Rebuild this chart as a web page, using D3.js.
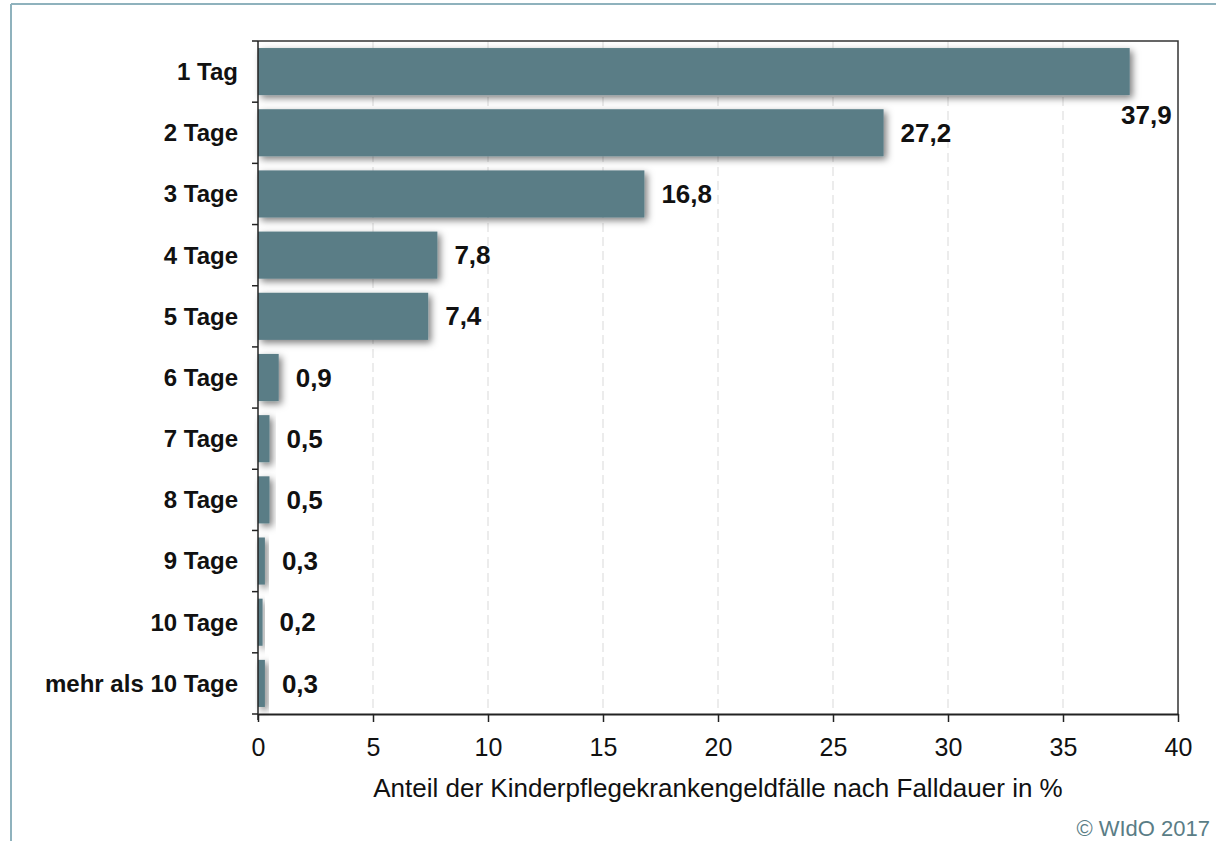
<!DOCTYPE html>
<html>
<head>
<meta charset="utf-8">
<script src="https://cdn.jsdelivr.net/npm/d3@7"></script>
<style>
  body { margin: 0; background: #fff; }
  svg { display: block; font-family: "Liberation Sans", Arial, sans-serif; }
</style>
</head>
<body>
<svg id="chart" width="1216" height="841"></svg>
<script>
// categories and values
const categories = ["1 Tag", "2 Tage", "3 Tage", "4 Tage", "5 Tage", "6 Tage",
  "7 Tage", "8 Tage", "9 Tage", "10 Tage", "mehr als 10 Tage"];
const values = [37.9, 27.2, 16.8, 7.8, 7.4, 0.9, 0.5, 0.5, 0.3, 0.2, 0.3];
const xTicks = [0, 5, 10, 15, 20, 25, 30, 35, 40];
const xTitle = "Anteil der Kinderpflegekrankengeldfälle nach Falldauer in %";
const credit = "© WIdO 2017";

const svg = d3.select("#chart");
const plotLeft = 258, plotRight = 1178, plotTop = 41, plotBottom = 714;
const barColor = "#5a7d86";

const x = d3.scaleLinear().domain([0, 40]).range([plotLeft, plotRight]);
const y = d3.scaleBand().domain(categories).range([plotTop, plotBottom])
  .paddingInner(0.23).paddingOuter(0.115);

// soft drop shadow for the bars
const filter = svg.append("defs").append("filter")
  .attr("id", "shadow")
  .attr("x", "-30%").attr("y", "-30%")
  .attr("width", "180%").attr("height", "180%");
filter.append("feDropShadow")
  .attr("dx", 3).attr("dy", 3)
  .attr("stdDeviation", 3.5)
  .attr("flood-color", "#000")
  .attr("flood-opacity", 0.5);

// outer frame (top + left)
svg.append("line").attr("x1", 11).attr("x2", 1216).attr("y1", 4).attr("y2", 4)
  .attr("stroke", "#8fb2bd").attr("stroke-width", 2);
svg.append("line").attr("x1", 11).attr("x2", 11).attr("y1", 4).attr("y2", 841)
  .attr("stroke", "#8fb2bd").attr("stroke-width", 2);

// dashed gridlines
svg.append("g")
  .selectAll("line")
  .data(xTicks.slice(1, -1))
  .enter()
  .append("line")
  .attr("x1", d => x(d)).attr("x2", d => x(d))
  .attr("y1", plotTop).attr("y2", plotBottom)
  .attr("stroke", "#d9d9d9")
  .attr("stroke-dasharray", "9,5");

// plot frame top + right
svg.append("path")
  .attr("d", `M${plotLeft},${plotTop}H${plotRight}V${plotBottom}`)
  .attr("fill", "none")
  .attr("stroke", "#333")
  .attr("stroke-width", 1.5);

// bars
svg.append("g")
  .selectAll("rect")
  .data(values)
  .enter()
  .append("rect")
  .attr("x", x(0))
  .attr("y", (d, i) => y(categories[i]))
  .attr("width", d => x(d) - x(0))
  .attr("height", y.bandwidth())
  .attr("fill", barColor)
  .attr("filter", "url(#shadow)");

// value labels (the first one sits below the bar end)
svg.append("g")
  .selectAll("text")
  .data(values)
  .enter()
  .append("text")
  .attr("x", (d, i) => i === 0 ? x(d) + 42 : x(d) + 17)
  .attr("y", (d, i) => i === 0
    ? y(categories[i]) + y.bandwidth() + 20
    : y(categories[i]) + y.bandwidth() / 2)
  .attr("text-anchor", (d, i) => i === 0 ? "end" : "start")
  .attr("dy", "0.35em")
  .attr("font-size", 26)
  .attr("font-weight", "bold")
  .attr("fill", "#111")
  .text(d => d.toFixed(1).replace(".", ","));

// y axis: ticks at band boundaries
const yAxis = svg.append("g");
yAxis.append("line")
  .attr("x1", plotLeft).attr("x2", plotLeft).attr("y1", plotTop).attr("y2", plotBottom + 6)
  .attr("stroke", "#222").attr("stroke-width", 1.5);
const bounds = d3.range(categories.length + 1).map(i => plotTop + i * y.step());
yAxis.selectAll("line.tick")
  .data(bounds)
  .enter()
  .append("line")
  .attr("class", "tick")
  .attr("x1", plotLeft - 6).attr("x2", plotLeft)
  .attr("y1", d => d).attr("y2", d => d)
  .attr("stroke", "#222").attr("stroke-width", 1.5);
yAxis.selectAll("text")
  .data(categories)
  .enter()
  .append("text")
  .attr("x", 238)
  .attr("y", d => y(d) + y.bandwidth() / 2)
  .attr("dy", "0.35em")
  .attr("text-anchor", "end")
  .attr("font-size", 24)
  .attr("font-weight", "bold")
  .attr("fill", "#111")
  .text(d => d);

// x axis
const xAxis = svg.append("g")
  .attr("transform", `translate(0,${plotBottom})`)
  .call(d3.axisBottom(x).tickValues(xTicks).tickSize(8).tickSizeOuter(0).tickPadding(16));
xAxis.select(".domain").attr("stroke", "#222").attr("stroke-width", 2);
xAxis.selectAll(".tick line").attr("stroke", "#222").attr("stroke-width", 1.5);
xAxis.selectAll(".tick text")
  .attr("font-size", 25)
  .attr("font-family", "Liberation Sans, Arial, sans-serif")
  .attr("fill", "#111");

svg.append("text")
  .attr("x", (plotLeft + plotRight) / 2)
  .attr("y", 797)
  .attr("text-anchor", "middle")
  .attr("font-size", 26)
  .attr("fill", "#111")
  .text(xTitle);

svg.append("text")
  .attr("x", 1210)
  .attr("y", 836)
  .attr("text-anchor", "end")
  .attr("font-size", 22)
  .attr("fill", barColor)
  .text(credit);
</script>
</body>
</html>
